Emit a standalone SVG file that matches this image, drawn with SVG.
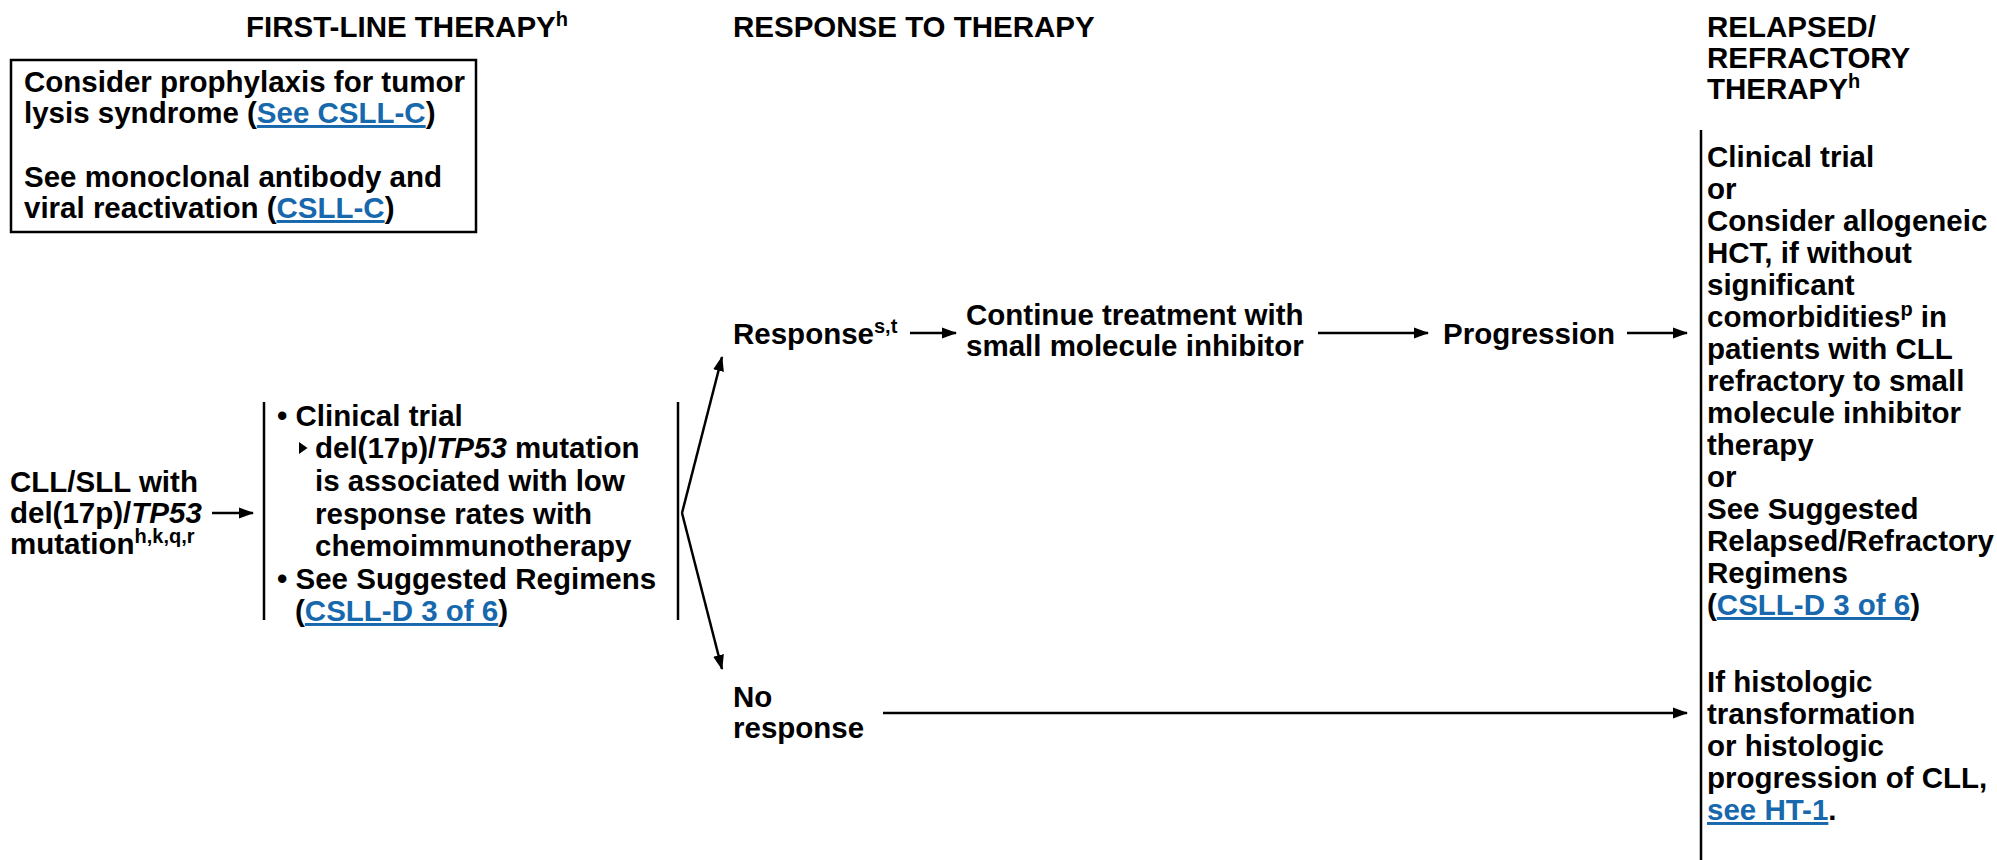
<svg xmlns="http://www.w3.org/2000/svg" width="1997" height="860" viewBox="0 0 1997 860">
<style>
text { font-family: "Liberation Sans", Arial, Helvetica, sans-serif; font-size: 29.5px; font-weight: bold; fill: #000; }
.link { fill: #1768ac; text-decoration: underline; }
.sup { font-size: 20px; }
.it { font-style: italic; }
.ln { stroke: #000; stroke-width: 2.5; fill: none; }
.arr { stroke: #000; stroke-width: 2.5; fill: none; marker-end: url(#ah); }
</style>
<defs>
<marker id="ah" markerUnits="userSpaceOnUse" markerWidth="15" markerHeight="12" refX="14" refY="6" orient="auto"><path d="M0,0.5 L15,6 L0,11.5 z" fill="#000"/></marker>
</defs>
<rect width="1997" height="860" fill="#fff"/>

<g id="headers">
<text x="246" y="37">FIRST-LINE THERAPY<tspan class="sup" dy="-11">h</tspan></text>
<text x="733" y="37">RESPONSE TO THERAPY</text>
<text x="1707" y="37">RELAPSED/</text>
<text x="1707" y="68">REFRACTORY</text>
<text x="1707" y="99">THERAPY<tspan class="sup" dy="-11">h</tspan></text>
</g>

<g id="node-prophylaxis">
<rect x="11" y="60" width="465" height="172" class="ln"/>
<text x="24" y="92">Consider prophylaxis for tumor</text>
<text x="24" y="123">lysis syndrome (<tspan class="link">See CSLL-C</tspan>)</text>
<text x="24" y="187">See monoclonal antibody and</text>
<text x="24" y="218">viral reactivation (<tspan class="link">CSLL-C</tspan>)</text>
</g>

<g id="node-cll">
<text x="10" y="492">CLL/SLL with</text>
<text x="10" y="523">del(17p)/<tspan class="it">TP53</tspan></text>
<text x="10" y="554">mutation<tspan class="sup" dy="-11">h,k,q,r</tspan></text>
</g>

<g id="node-firstline">
<line x1="264" y1="402" x2="264" y2="620" class="ln"/>
<text x="277" y="426">• Clinical trial</text>
<polygon points="299,442 307.5,448 299,454" fill="#000"/>
<text x="315" y="458">del(17p)/<tspan class="it">TP53</tspan> mutation</text>
<text x="315" y="491">is associated with low</text>
<text x="315" y="524">response rates with</text>
<text x="315" y="556">chemoimmunotherapy</text>
<text x="277" y="589">• See Suggested Regimens</text>
<text x="295" y="621">(<tspan class="link">CSLL-D 3 of 6</tspan>)</text>
<line x1="678" y1="402" x2="678" y2="620" class="ln"/>
</g>

<g id="node-response">
<text x="733" y="344">Response<tspan class="sup" dy="-11">s,t</tspan></text>
</g>

<g id="node-continue">
<text x="966" y="325">Continue treatment with</text>
<text x="966" y="356">small molecule inhibitor</text>
</g>

<g id="node-progression">
<text x="1443" y="344">Progression</text>
</g>

<g id="node-noresponse">
<text x="733" y="707">No</text>
<text x="733" y="738">response</text>
</g>

<g id="node-relapsed">
<line x1="1701" y1="130" x2="1701" y2="860" class="ln"/>
<text x="1707" y="167">Clinical trial</text>
<text x="1707" y="199">or</text>
<text x="1707" y="231">Consider allogeneic</text>
<text x="1707" y="263">HCT, if without</text>
<text x="1707" y="295">significant</text>
<text x="1707" y="327">comorbidities<tspan class="sup" dy="-11">p</tspan><tspan dy="11"> in</tspan></text>
<text x="1707" y="359">patients with CLL</text>
<text x="1707" y="391">refractory to small</text>
<text x="1707" y="423">molecule inhibitor</text>
<text x="1707" y="455">therapy</text>
<text x="1707" y="487">or</text>
<text x="1707" y="519">See Suggested</text>
<text x="1707" y="551">Relapsed/Refractory</text>
<text x="1707" y="583">Regimens</text>
<text x="1707" y="615">(<tspan class="link">CSLL-D 3 of 6</tspan>)</text>
<text x="1707" y="692">If histologic</text>
<text x="1707" y="724">transformation</text>
<text x="1707" y="756">or histologic</text>
<text x="1707" y="788">progression of CLL,</text>
<text x="1707" y="820"><tspan class="link">see HT-1</tspan>.</text>
</g>

<g id="connectors">
<line x1="212" y1="513" x2="253" y2="513" class="arr"/>
<line x1="682" y1="513" x2="722" y2="357" class="arr"/>
<line x1="682" y1="513" x2="722" y2="669" class="arr"/>
<line x1="910" y1="333" x2="956" y2="333" class="arr"/>
<line x1="1318" y1="333" x2="1428" y2="333" class="arr"/>
<line x1="1627" y1="333" x2="1687" y2="333" class="arr"/>
<line x1="883" y1="713" x2="1687" y2="713" class="arr"/>
</g>
</svg>
